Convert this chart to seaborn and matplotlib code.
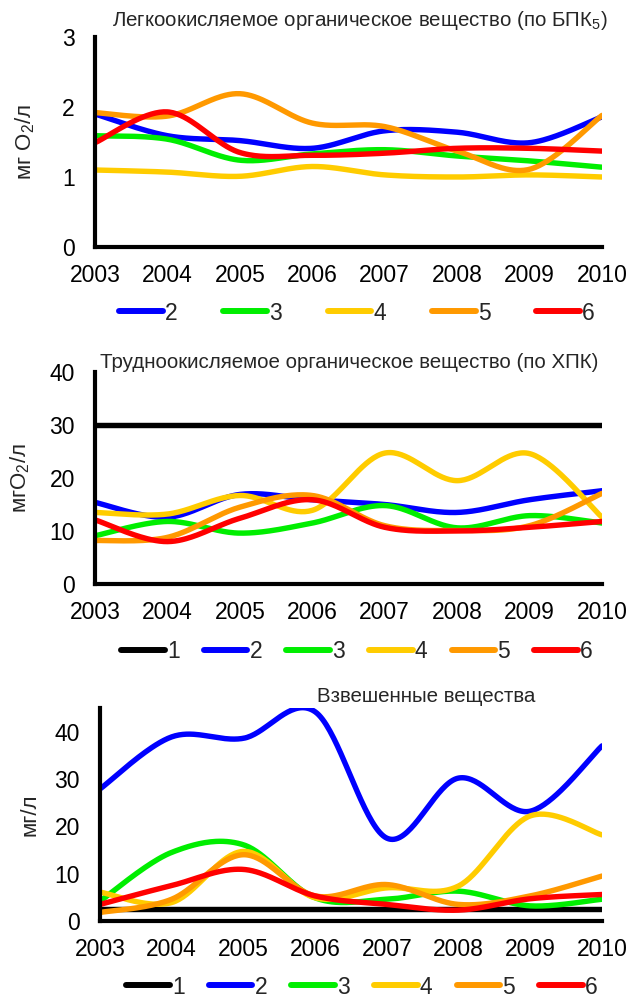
import numpy as np
import pandas as pd
import matplotlib
matplotlib.use("Agg")
import matplotlib.pyplot as plt
import seaborn as sns

sns.set_style("white")
plt.rcParams["font.family"] = ["Liberation Sans", "DejaVu Sans"]
plt.rcParams["mathtext.fontset"] = "custom"
plt.rcParams["mathtext.rm"] = "Liberation Sans"
plt.rcParams["mathtext.it"] = "Liberation Sans"

years = [2003, 2004, 2005, 2006, 2007, 2008, 2009, 2010]

# БПК5, мг O2/л
bod_2 = [1.90, 1.59, 1.52, 1.41, 1.66, 1.64, 1.49, 1.86]
bod_3 = [1.59, 1.54, 1.24, 1.33, 1.39, 1.30, 1.23, 1.14]
bod_4 = [1.10, 1.07, 1.01, 1.15, 1.03, 1.00, 1.03, 1.00]
bod_5 = [1.92, 1.87, 2.19, 1.77, 1.72, 1.37, 1.11, 1.88]
bod_6 = [1.49, 1.93, 1.35, 1.31, 1.34, 1.41, 1.41, 1.37]

# ХПК, мгO2/л
cod_1 = [30, 30, 30, 30, 30, 30, 30, 30]
cod_2 = [15.4, 12.6, 16.9, 15.9, 15.0, 13.5, 15.9, 17.6]
cod_3 = [9.1, 11.8, 9.6, 11.5, 14.8, 10.6, 12.9, 11.5]
cod_4 = [13.5, 13.2, 16.7, 13.9, 24.7, 19.5, 24.6, 12.6]
cod_5 = [8.2, 8.8, 14.5, 16.7, 11.0, 10.1, 11.0, 17.1]
cod_6 = [12.1, 8.0, 12.4, 15.9, 10.7, 10.0, 10.7, 11.8]

# Взвешенные вещества, мг/л
tss_1 = [2.6, 2.6, 2.6, 2.6, 2.6, 2.6, 2.6, 2.6]
tss_2 = [27.9, 38.9, 38.6, 44.2, 17.5, 30.2, 23.2, 37.0]
tss_3 = [4.2, 14.5, 16.1, 4.9, 4.6, 6.3, 3.2, 4.6]
tss_4 = [6.1, 3.9, 14.7, 4.9, 7.0, 7.4, 22.2, 18.2]
tss_5 = [1.8, 4.6, 14.0, 5.3, 7.7, 3.5, 5.3, 9.5]
tss_6 = [3.5, 7.5, 10.9, 5.3, 3.5, 2.3, 4.7, 5.6]

colors = {"1": "#000000", "2": "#0000FF", "3": "#00EE00",
          "4": "#FFCC00", "5": "#FF9900", "6": "#FF0000"}

LW = 3.9


def smooth(x, y, n=40):
    """Bezier smoothing through the points (Excel-style smoothed line)."""
    p = np.column_stack([np.asarray(x, float), np.asarray(y, float)])
    out = []
    m = len(p)
    t = np.linspace(0, 1, n)[:, None]
    for i in range(m - 1):
        p0 = p[max(i - 1, 0)]
        p1 = p[i]
        p2 = p[i + 1]
        p3 = p[min(i + 2, m - 1)]
        c1 = p1 + (p2 - p0) / 6
        c2 = p2 - (p3 - p1) / 6
        seg = ((1 - t) ** 3) * p1 + 3 * ((1 - t) ** 2) * t * c1 \
            + 3 * (1 - t) * t ** 2 * c2 + t ** 3 * p2
        out.append(seg if i == 0 else seg[1:])
    s = np.vstack(out)
    return s[:, 0], s[:, 1]


def build(series):
    frames = []
    for name, vals in series.items():
        sx, sy = smooth(years, vals)
        frames.append(pd.DataFrame({"year": sx, "value": sy, "series": name}))
    return pd.concat(frames, ignore_index=True)


fig = plt.figure(figsize=(6.29, 9.97), dpi=100)
W, H = 629, 997


def axes_px(left, right, top, bottom):
    return fig.add_axes([left / W, 1 - bottom / H, (right - left) / W, (bottom - top) / H])


panels = [
    dict(box=(95, 602, 37, 247),
         series={"2": bod_2, "3": bod_3, "4": bod_4, "5": bod_5, "6": bod_6},
         ylim=(0, 3), yticks=[0, 1, 2, 3],
         ylabel="мг O$_2$/л", ylabel_x=25,
         title="Легкоокисляемое органическое вещество (по БПК$_5$)", title_xy=(360, 20),
         legend_y=313, legend_cx=357, colsp=2.0),
    dict(box=(95, 602, 372, 584),
         series={"1": cod_1, "2": cod_2, "3": cod_3, "4": cod_4, "5": cod_5, "6": cod_6},
         ylim=(0, 40), yticks=[0, 10, 20, 30, 40],
         ylabel="мгO$_2$/л", ylabel_x=20,
         title="Трудноокисляемое органическое вещество (по ХПК)", title_xy=(349, 362),
         legend_y=652, legend_cx=357, colsp=1.05),
    dict(box=(100, 602, 708, 921),
         series={"1": tss_1, "2": tss_2, "3": tss_3, "4": tss_4, "5": tss_5, "6": tss_6},
         ylim=(0, 45), yticks=[0, 10, 20, 30, 40],
         ylabel="мг/л", ylabel_x=30,
         title="Взвешенные вещества", title_xy=(426, 697),
         legend_y=987, legend_cx=362, colsp=1.05),
]

for p in panels:
    ax = axes_px(*p["box"])
    df = build(p["series"])
    sns.lineplot(data=df, x="year", y="value", hue="series",
                 palette={k: colors[k] for k in p["series"]},
                 estimator=None, sort=False, linewidth=LW, ax=ax, legend=True)
    ax.set_xlim(years[0], years[-1])
    ax.set_ylim(*p["ylim"])
    ax.set_xticks(years)
    ax.set_xticklabels([str(y) for y in years])
    ax.set_yticks(p["yticks"])
    ax.set_xlabel("")
    ax.set_ylabel("")
    for side in ("top", "right"):
        ax.spines[side].set_visible(False)
    for side in ("left", "bottom"):
        ax.spines[side].set_linewidth(3)
        ax.spines[side].set_color("black")
    ax.tick_params(axis="y", direction="inout", length=9, width=3,
                   labelsize=16.5, pad=10, colors="black")
    ax.tick_params(axis="x", direction="inout", length=9, width=3,
                   labelsize=16.5, pad=8, colors="black")
    for lab in ax.get_xticklabels():
        lab.set_clip_on(False)

    fig.text(p["ylabel_x"] / W, 1 - ((p["box"][2] + p["box"][3]) / 2) / H,
             p["ylabel"], rotation=90, ha="center", va="center", fontsize=16)
    fig.text(p["title_xy"][0] / W, 1 - p["title_xy"][1] / H, p["title"],
             ha="center", va="center", fontsize=14.8)

    handles, labels = ax.get_legend_handles_labels()
    ax.get_legend().remove()
    for h in handles:
        h.set_linewidth(LW + 0.4)
    fig.legend(handles, labels, loc="center", ncol=len(labels),
               bbox_to_anchor=(p["legend_cx"] / W, 1 - p["legend_y"] / H),
               frameon=False, fontsize=16.5, handlelength=1.9, handletextpad=0.1,
               columnspacing=p["colsp"], borderpad=0, borderaxespad=0)

fig.savefig("out.png", dpi=100)
